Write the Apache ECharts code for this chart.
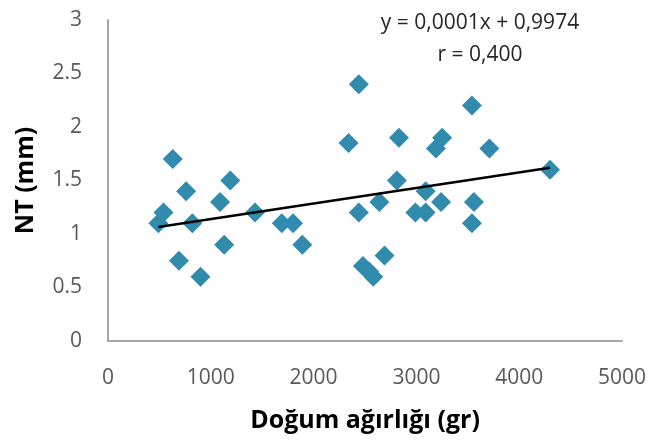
<!DOCTYPE html>
<html>
<head>
<meta charset="utf-8">
<script src="https://cdn.jsdelivr.net/npm/echarts@6/dist/echarts.min.js"></script>
<style>
  html, body { margin: 0; padding: 0; background: #fff; }
  #chart { width: 650px; height: 448px; }
</style>
</head>
<body>
<div id="chart"></div>
<script>
// birth weight (gr) vs NT (mm)
const birthWeight = [
  490, 540, 630, 690, 760, 820, 900, 1090, 1130, 1190,
  1430, 1690, 1800, 1890, 2340, 2440, 2440, 2480, 2540, 2580,
  2640, 2690, 2810, 2830, 2990, 3090, 3090, 3190, 3240, 3250,
  3540, 3540, 3560, 3710, 4300
];
const ntValues = [
  1.1, 1.2, 1.7, 0.75, 1.4, 1.1, 0.6, 1.3, 0.9, 1.5,
  1.2, 1.1, 1.1, 0.9, 1.85, 2.4, 1.2, 0.7, 0.65, 0.6,
  1.3, 0.8, 1.5, 1.9, 1.2, 1.4, 1.2, 1.8, 1.3, 1.9,
  2.2, 1.1, 1.3, 1.8, 1.6
];
// trend line ends as drawn
const trendX = [490, 4300];
const trendY = [1.065, 1.62];

const xTicks = [0, 1000, 2000, 3000, 4000, 5000];
const yTicks = [0, 0.5, 1, 1.5, 2, 2.5, 3];

const chart = echarts.init(document.getElementById('chart'));

const labelColor = '#595959';
const axisColor = '#a6a6a6';
const font = '"Open Sans", sans-serif';

chart.setOption({
  animation: false,
  grid: { left: 108, right: 28, top: 20, bottom: 107 },
  title: {
    text: 'y = 0,0001x + 0,9974\nr = 0,400',
    left: 475,
    top: 2,
    textAlign: 'center',
    textStyle: {
      fontFamily: font,
      fontSize: 21,
      fontWeight: 'normal',
      color: '#262626',
      lineHeight: 32,
    },
  },
  xAxis: {
    type: 'value',
    min: 0,
    max: 5000,
    interval: 1000,
    name: 'Doğum ağırlığı (gr)',
    nameLocation: 'middle',
    nameGap: 67,
    nameTextStyle: { fontFamily: font, fontSize: 25, fontWeight: 'bold', color: '#000' },
    axisLine: { show: true, lineStyle: { color: axisColor, width: 2 } },
    axisTick: { show: false },
    splitLine: { show: false },
    axisLabel: {
      fontFamily: font,
      fontSize: 21,
      color: labelColor,
      margin: 27,
      formatter: (v) => (xTicks.includes(v) ? String(v) : ''),
    },
  },
  yAxis: {
    type: 'value',
    min: 0,
    max: 3,
    interval: 0.5,
    name: 'NT (mm)',
    nameLocation: 'middle',
    nameGap: 70,
    nameTextStyle: { fontFamily: font, fontSize: 25, fontWeight: 'bold', color: '#000' },
    axisLine: { show: true, lineStyle: { color: axisColor, width: 2 } },
    axisTick: { show: false },
    splitLine: { show: false },
    axisLabel: {
      fontFamily: font,
      fontSize: 21,
      color: labelColor,
      margin: 26,
      formatter: (v) => (yTicks.includes(v) ? String(v) : ''),
    },
  },
  series: [
    {
      type: 'scatter',
      symbol: 'diamond',
      symbolSize: 20,
      itemStyle: { color: '#308bad', opacity: 1 },
      data: birthWeight.map((x, i) => [x, ntValues[i]]),
    },
    {
      type: 'line',
      symbol: 'none',
      lineStyle: { color: '#000', width: 2.5 },
      data: trendX.map((x, i) => [x, trendY[i]]),
      z: 3,
    },
  ],
});
</script>
</body>
</html>
